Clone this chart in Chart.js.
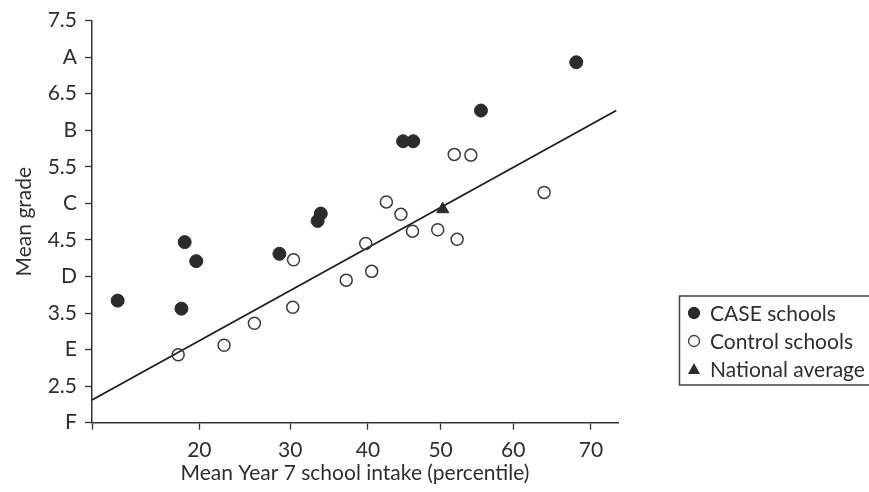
<!DOCTYPE html>
<html>
<head>
<meta charset="utf-8">
<title>CASE schools vs control schools</title>
<script src="https://cdn.jsdelivr.net/npm/chart.js@4.4.1/dist/chart.umd.min.js"></script>
<style>
  html, body { margin: 0; padding: 0; background: #fff; }
  #chart { display: block; }
</style>
</head>
<body>
<canvas id="chart" width="869" height="492"></canvas>
<script>
// data (x = intake percentile, y = mean grade)
const caseX = [13.0, 18.6, 19.7, 18.3, 28.7, 33.4, 33.8, 44.8, 46.2, 55.6, 68.2];
const caseY = [3.67, 4.47, 4.21, 3.56, 4.31, 4.76, 4.86, 5.85, 5.85, 6.27, 6.93];

const controlX = [18.0, 22.5, 25.8, 30.3, 30.4, 37.1, 40.5, 39.7, 42.5, 44.5, 46.1, 49.6, 52.3, 51.9, 54.2, 64.1];
const controlY = [2.93, 3.06, 3.36, 3.58, 4.23, 3.95, 4.07, 4.45, 5.02, 4.85, 4.62, 4.64, 4.51, 5.67, 5.66, 5.15];

const nationalX = [50.3];
const nationalY = [4.92];

// trend line end points
const lineX = [11.2, 73.0];
const lineY = [2.31, 6.27];

const xTickValues = [20, 30, 40, 50, 60, 70];
const yTickValues = [2, 2.5, 3, 3.5, 4, 4.5, 5, 5.5, 6, 6.5, 7, 7.5];
const yTickLabels = ['F', '2.5', 'E', '3.5', 'D', '4.5', 'C', '5.5', 'B', '6.5', 'A', '7.5'];

const X_MIN = 11.2, X_MAX = 73.2;
const INK = '#2e2e2e';
const FONT = 'Lato, "Open Sans", sans-serif';
const FONT_SIZE = 21;

// inverse normal cdf (Acklam) – the x axis of the original is a percentile (probit) scale
function probit(p) {
  p = Math.min(Math.max(p, 1e-9), 1 - 1e-9);
  const a = [-39.69683028665376, 220.9460984245205, -275.9285104469687, 138.3577518672690, -30.66479806614716, 2.506628277459239];
  const b = [-54.47609879822406, 161.5858368580409, -155.6989798598866, 66.80131188771972, -13.28068155288572];
  const c = [-0.007784894002430293, -0.3223964580411365, -2.400758277161838, -2.549732539343734, 4.374664141464968, 2.938163982698783];
  const d = [0.007784695709041462, 0.3224671290700398, 2.445134137142996, 3.754408661907416];
  let q, r;
  if (p < 0.02425) {
    q = Math.sqrt(-2 * Math.log(p));
    return (((((c[0]*q+c[1])*q+c[2])*q+c[3])*q+c[4])*q+c[5]) / ((((d[0]*q+d[1])*q+d[2])*q+d[3])*q+1);
  }
  if (p > 1 - 0.02425) {
    q = Math.sqrt(-2 * Math.log(1 - p));
    return -(((((c[0]*q+c[1])*q+c[2])*q+c[3])*q+c[4])*q+c[5]) / ((((d[0]*q+d[1])*q+d[2])*q+d[3])*q+1);
  }
  q = p - 0.5; r = q * q;
  return (((((a[0]*r+a[1])*r+a[2])*r+a[3])*r+a[4])*r+a[5])*q / (((((b[0]*r+b[1])*r+b[2])*r+b[3])*r+b[4])*r+1);
}

function normCdf(z) {
  const t = 1 / (1 + 0.3275911 * Math.abs(z) / Math.SQRT2);
  const y = 1 - (((((1.061405429*t - 1.453152027)*t) + 1.421413741)*t - 0.284496736)*t + 0.254829592) * t * Math.exp(-z*z/2);
  return z >= 0 ? (1 + y) / 2 : (1 - y) / 2;
}

class ProbitScale extends Chart.LinearScale {
  configure() {
    super.configure();
    this._zMin = probit(this.min / 100);
    this._zMax = probit(this.max / 100);
  }
  getPixelForValue(value) {
    if (value === null || value === undefined) return NaN;
    return this.getPixelForDecimal((probit(value / 100) - this._zMin) / (this._zMax - this._zMin));
  }
  getValueForPixel(pixel) {
    const dec = this.getDecimalForPixel(pixel);
    return 100 * normCdf(this._zMin + dec * (this._zMax - this._zMin));
  }
}
ProbitScale.id = 'probit';
ProbitScale.defaults = Chart.LinearScale.defaults;
Chart.register(ProbitScale);

const toPoints = (xs, ys) => xs.map((x, i) => ({ x: x, y: ys[i] }));

// boxed legend sitting to the lower right, as in the scan
const boxLegend = {
  id: 'boxLegend',
  afterDraw(chart) {
    const ctx = chart.ctx;
    const items = chart.data.datasets.filter(ds => ds.inLegend);
    ctx.save();
    ctx.strokeStyle = '#3b4254';
    ctx.lineWidth = 1.5;
    ctx.strokeRect(679.5, 296, 200, 89);
    ctx.font = FONT_SIZE + 'px ' + FONT;
    ctx.textBaseline = 'middle';
    ctx.fillStyle = INK;
    items.forEach((ds, i) => {
      const y = 313 + i * 28;
      const x = 694;
      ctx.beginPath();
      if (ds.pointStyle === 'triangle') {
        ctx.moveTo(x, y - 6);
        ctx.lineTo(x + 6, y + 5);
        ctx.lineTo(x - 6, y + 5);
        ctx.closePath();
        ctx.fillStyle = ds.backgroundColor;
        ctx.fill();
      } else {
        ctx.arc(x, y, 5.5, 0, Math.PI * 2);
        if (ds.backgroundColor !== 'transparent') {
          ctx.fillStyle = ds.backgroundColor;
          ctx.fill();
        }
        ctx.strokeStyle = ds.borderColor;
        ctx.lineWidth = 1.3;
        ctx.stroke();
      }
      ctx.fillStyle = INK;
      ctx.fillText(ds.label, 710, y + 1);
    });
    ctx.restore();
  }
};

new Chart(document.getElementById('chart'), {
  type: 'scatter',
  data: {
    datasets: [
      {
        type: 'line',
        label: 'Trend',
        data: toPoints(lineX, lineY),
        borderColor: '#1e1e1e',
        borderWidth: 1.8,
        pointRadius: 0,
        fill: false,
        inLegend: false,
        order: 2
      },
      {
        label: 'CASE schools',
        data: toPoints(caseX, caseY),
        pointStyle: 'circle',
        pointRadius: 6.5,
        backgroundColor: '#2b2b2b',
        borderColor: '#2b2b2b',
        borderWidth: 1,
        inLegend: true,
        order: 1
      },
      {
        label: 'Control schools',
        data: toPoints(controlX, controlY),
        pointStyle: 'circle',
        pointRadius: 6,
        backgroundColor: 'transparent',
        borderColor: '#3a3a3a',
        borderWidth: 1.5,
        inLegend: true,
        order: 1
      },
      {
        label: 'National average',
        data: toPoints(nationalX, nationalY),
        pointStyle: 'triangle',
        pointRadius: 7,
        backgroundColor: '#2b2b2b',
        borderColor: '#2b2b2b',
        borderWidth: 1,
        inLegend: true,
        order: 1
      }
    ]
  },
  options: {
    responsive: false,
    animation: false,
    layout: { padding: { left: 0, top: 16, right: 251, bottom: 0 } },
    plugins: {
      legend: { display: false },
      tooltip: { enabled: false }
    },
    scales: {
      x: {
        type: 'probit',
        min: X_MIN,
        max: X_MAX,
        bounds: 'data',
        afterFit(scale) { scale.height = 69.3; },
        afterBuildTicks(scale) {
          scale.ticks = [X_MIN].concat(xTickValues).map(v => ({ value: v }));
        },
        ticks: {
          color: INK,
          font: { family: FONT, size: FONT_SIZE },
          padding: 8,
          maxRotation: 0,
          autoSkip: false,
          callback: (v) => xTickValues.includes(v) ? String(v) : ''
        },
        grid: { drawOnChartArea: false, drawTicks: true, tickLength: 7, tickColor: '#333', tickWidth: 1.3 },
        border: { display: true, color: '#2a3448', width: 1.5 },
        title: {
          display: true,
          text: 'Mean Year 7 school intake (percentile)',
          color: INK,
          font: { family: FONT, size: FONT_SIZE },
          padding: { top: 0, bottom: 6 }
        }
      },
      y: {
        min: 2,
        max: 7.5,
        afterFit(scale) { scale.width = 92; },
        afterBuildTicks(scale) {
          scale.ticks = yTickValues.map(v => ({ value: v }));
        },
        ticks: {
          color: INK,
          font: { family: FONT, size: FONT_SIZE },
          padding: 8,
          callback: (v) => {
            const i = yTickValues.indexOf(v);
            return i >= 0 ? yTickLabels[i] : '';
          }
        },
        grid: { drawOnChartArea: false, drawTicks: true, tickLength: 7, tickColor: '#333', tickWidth: 1.3 },
        border: { display: true, color: '#333', width: 1.5 },
        title: {
          display: true,
          text: 'Mean grade',
          color: INK,
          font: { family: FONT, size: FONT_SIZE },
          padding: { top: 12, bottom: 0 }
        }
      }
    }
  },
  plugins: [boxLegend]
});
</script>
</body>
</html>
